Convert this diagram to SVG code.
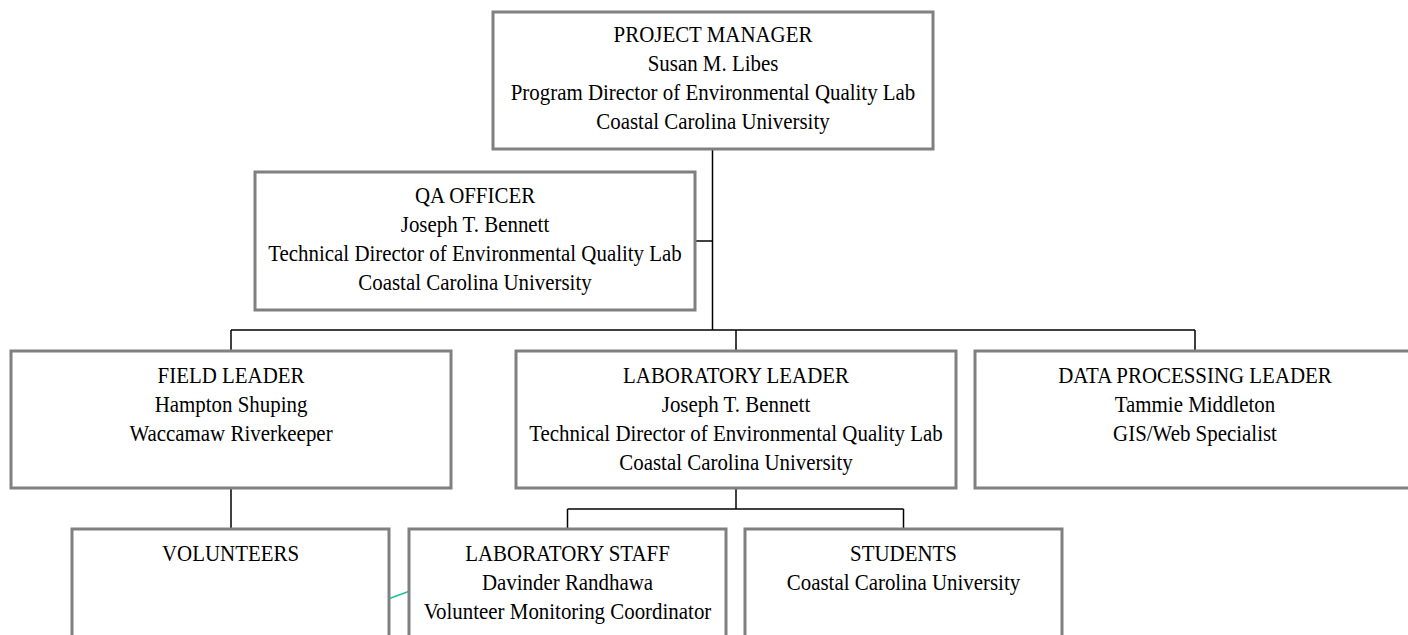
<svg xmlns="http://www.w3.org/2000/svg" width="1408" height="635" viewBox="0 0 1408 635">
  <defs>
    <style>
      .box { fill: #ffffff; stroke: #808080; stroke-width: 3; }
      .lbl { font-family: "Liberation Serif", "Times New Roman", serif; font-size: 23.5px; fill: #000000; text-anchor: middle; }
      .wire { fill: none; stroke: #000000; stroke-width: 1.5; }
      .wire-accent { fill: none; stroke: #1fbf9f; stroke-width: 1.5; }
    </style>
  </defs>
  <rect x="0" y="0" width="1408" height="635" fill="#ffffff"/>

  <!-- connectors -->
  <g id="connectors">
    <path class="wire" d="M712.5 149 V330"/>
    <path class="wire" d="M695 241 H712.5"/>
    <path class="wire" d="M231 330 H1195"/>
    <path class="wire" d="M231 330 V351"/>
    <path class="wire" d="M736 330 V351"/>
    <path class="wire" d="M1195 330 V351"/>
    <path class="wire" d="M231 488 V529"/>
    <path class="wire" d="M736 488 V509"/>
    <path class="wire" d="M567.5 509 H903.5"/>
    <path class="wire" d="M567.5 509 V529"/>
    <path class="wire" d="M903.5 509 V529"/>
    <path class="wire-accent" d="M388 599 L410 591"/>
  </g>

  <!-- labels are set in a slightly narrowed serif: each block is centred on its box and squeezed horizontally -->
  <g id="project-manager">
    <rect class="box" x="493" y="12" width="440" height="137"/>
    <g transform="translate(713 0) scale(0.89 1)">
      <text class="lbl" x="0" y="42">PROJECT MANAGER</text>
      <text class="lbl" x="0" y="71">Susan M. Libes</text>
      <text class="lbl" x="0" y="100">Program Director of Environmental Quality Lab</text>
      <text class="lbl" x="0" y="129">Coastal Carolina University</text>
    </g>
  </g>

  <g id="qa-officer">
    <rect class="box" x="255" y="172" width="440" height="138"/>
    <g transform="translate(475 0) scale(0.89 1)">
      <text class="lbl" x="0" y="203">QA OFFICER</text>
      <text class="lbl" x="0" y="232">Joseph T. Bennett</text>
      <text class="lbl" x="0" y="261">Technical Director of Environmental Quality Lab</text>
      <text class="lbl" x="0" y="290">Coastal Carolina University</text>
    </g>
  </g>

  <g id="field-leader">
    <rect class="box" x="11" y="351" width="440" height="137"/>
    <g transform="translate(231 0) scale(0.89 1)">
      <text class="lbl" x="0" y="383">FIELD LEADER</text>
      <text class="lbl" x="0" y="412">Hampton Shuping</text>
      <text class="lbl" x="0" y="441">Waccamaw Riverkeeper</text>
    </g>
  </g>

  <g id="laboratory-leader">
    <rect class="box" x="516" y="351" width="440" height="137"/>
    <g transform="translate(736 0) scale(0.89 1)">
      <text class="lbl" x="0" y="383">LABORATORY LEADER</text>
      <text class="lbl" x="0" y="412">Joseph T. Bennett</text>
      <text class="lbl" x="0" y="441">Technical Director of Environmental Quality Lab</text>
      <text class="lbl" x="0" y="470">Coastal Carolina University</text>
    </g>
  </g>

  <g id="data-processing-leader">
    <rect class="box" x="975" y="351" width="440" height="137"/>
    <g transform="translate(1195 0) scale(0.89 1)">
      <text class="lbl" x="0" y="383">DATA PROCESSING LEADER</text>
      <text class="lbl" x="0" y="412">Tammie Middleton</text>
      <text class="lbl" x="0" y="441">GIS/Web Specialist</text>
    </g>
  </g>

  <g id="volunteers">
    <rect class="box" x="72" y="529" width="317" height="120"/>
    <g transform="translate(230.5 0) scale(0.89 1)">
      <text class="lbl" x="0" y="561">VOLUNTEERS</text>
    </g>
  </g>

  <g id="laboratory-staff">
    <rect class="box" x="409" y="529" width="317" height="120"/>
    <g transform="translate(567.5 0) scale(0.89 1)">
      <text class="lbl" x="0" y="561">LABORATORY STAFF</text>
      <text class="lbl" x="0" y="590">Davinder Randhawa</text>
      <text class="lbl" x="0" y="619">Volunteer Monitoring Coordinator</text>
    </g>
  </g>

  <g id="students">
    <rect class="box" x="745" y="529" width="317" height="120"/>
    <g transform="translate(903.5 0) scale(0.89 1)">
      <text class="lbl" x="0" y="561">STUDENTS</text>
      <text class="lbl" x="0" y="590">Coastal Carolina University</text>
    </g>
  </g>
</svg>
